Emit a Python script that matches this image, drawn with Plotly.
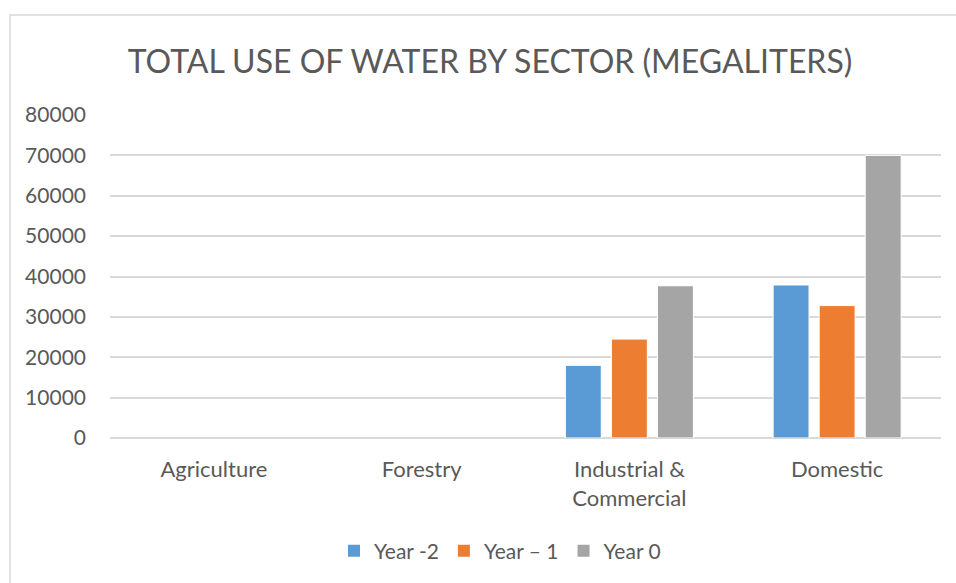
import plotly.graph_objects as go

# Water use per sector, megaliters
sectors = ["Agriculture", "Forestry", "Industrial &<br>Commercial", "Domestic"]
year_minus_2 = [0, 0, 18000, 37900]
year_minus_1 = [0, 0, 24500, 32800]
year_0 = [0, 0, 37700, 70000]
series_names = ["Year -2", "Year \u2013 1", "Year 0"]
series_colors = ["#5B9BD5", "#ED7D31", "#A5A5A5"]
y_ticks = [0, 10000, 20000, 30000, 40000, 50000, 60000, 70000, 80000]

W, H = 956, 583
ML, MR, MT, MB = 110, 15, 115, 145
TEXT = "#595959"
FONT = "Lato"

fig = go.Figure()
for name, vals, col in zip(series_names, [year_minus_2, year_minus_1, year_0], series_colors):
    fig.add_trace(go.Bar(
        x=sectors, y=vals, name=name,
        marker=dict(
            color=col,
            # thin white edge on visible bars only, so empty bars leave the axis line intact
            line=dict(color="white", width=[1 if v > 0 else 0 for v in vals]),
        ),
    ))

pw = W - ML - MR
ph = H - MT - MB

# light frame around the chart area
fig.add_shape(
    type="rect", xref="paper", yref="paper",
    x0=(10 - ML) / pw, x1=(W + 5 - ML) / pw,
    y0=(H - MB - (H + 5)) / ph, y1=(H - MB - 15) / ph,
    line=dict(color="#d9d9d9", width=1.5), fillcolor="rgba(0,0,0,0)", layer="below",
)

fig.update_layout(
    width=W, height=H,
    margin=dict(l=ML, r=MR, t=MT, b=MB),
    paper_bgcolor="white", plot_bgcolor="white",
    barmode="group", bargap=0.335, bargroupgap=0.22,
    font=dict(family=FONT, color=TEXT, size=21),
    title=dict(
        text="TOTAL USE OF WATER BY SECTOR (MEGALITERS)",
        font=dict(family=FONT, size=32, color=TEXT),
        xref="container", yref="container",
        x=490 / W, y=1 - 62 / H, xanchor="center", yanchor="middle",
    ),
    xaxis=dict(
        showgrid=False, showline=False, zeroline=False,
        ticks="outside", ticklen=12, tickcolor="rgba(0,0,0,0)",
        tickfont=dict(family=FONT, size=22, color=TEXT),
    ),
    yaxis=dict(
        range=[0, 80000], tickvals=y_ticks, ticktext=[str(v) for v in y_ticks],
        showgrid=True, gridcolor="#d9d9d9", gridwidth=1.5,
        zeroline=True, zerolinecolor="#d9d9d9", zerolinewidth=1.5,
        showline=False, ticks="", ticklabelstandoff=23,
        tickfont=dict(family=FONT, size=21, color=TEXT),
    ),
    legend=dict(
        orientation="h", xref="container", yref="container",
        x=500 / W, y=1 - 551 / H, xanchor="center", yanchor="middle",
        font=dict(family=FONT, size=21, color=TEXT),
        itemwidth=30, traceorder="normal",
    ),
)

fig.write_html("out.html")
